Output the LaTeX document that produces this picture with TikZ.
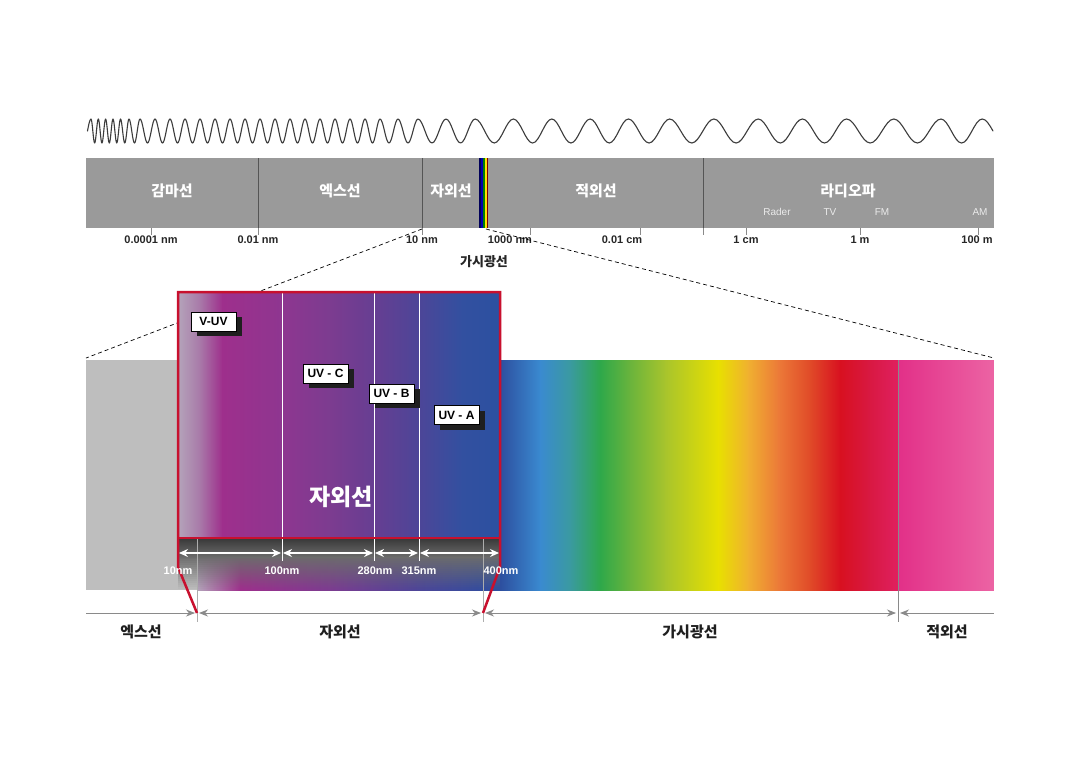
\documentclass[tikz,border=0pt]{standalone}
\usepackage{fontspec}
\setmainfont{Liberation Sans}
\newfontfamily\kr{Noto Sans CJK KR}
\usepackage{xcolor}
\usetikzlibrary{arrows.meta, shadows}

\definecolor{bargray}{HTML}{9A9A9A}
\definecolor{divgray}{HTML}{555555}
\definecolor{wavegray}{HTML}{3C3C3C}
\definecolor{specgray}{HTML}{BEBEBE}
\definecolor{insetred}{HTML}{C8102E}
\definecolor{axisgray}{HTML}{8A8A8A}
\definecolor{striptop}{HTML}{383838}
\definecolor{stripbot}{HTML}{6C6C6C}
% rainbow stops
\definecolor{rbA}{HTML}{2D4F9F}
\definecolor{rbB}{HTML}{3A8AD0}
\definecolor{rbC}{HTML}{3A9AA0}
\definecolor{rbD}{HTML}{2EA84A}
\definecolor{rbE}{HTML}{6AB43C}
\definecolor{rbF}{HTML}{A8C42C}
\definecolor{rbG}{HTML}{E8E000}
\definecolor{rbH}{HTML}{F0B030}
\definecolor{rbI}{HTML}{EC7A38}
\definecolor{rbJ}{HTML}{E04A28}
\definecolor{rbK}{HTML}{D81020}
\definecolor{rbL}{HTML}{D81840}
\definecolor{rbM}{HTML}{E02060}
\definecolor{irA}{HTML}{E23088}
\definecolor{irB}{HTML}{EC64A4}
% ultraviolet stops
\definecolor{uvA}{HTML}{B4A4BA}
\definecolor{uvB}{HTML}{A878A8}
\definecolor{uvC}{HTML}{9E2F8C}
\definecolor{uvD}{HTML}{8E3690}
\definecolor{uvE}{HTML}{7C3C90}
\definecolor{uvF}{HTML}{663E92}
\definecolor{uvG}{HTML}{4C4698}
\definecolor{uvH}{HTML}{3250A0}
\definecolor{uvI}{HTML}{2C50A0}

\begin{document}
\begin{tikzpicture}[x=1pt, y=-1pt,
    wave/.style={wavegray, line width=1.1pt, line cap=round, line join=round},
    divider/.style={divgray, line width=1pt},
    tickmark/.style={axisgray, line width=0.8pt},
    bandlabel/.style={text=white, font=\kr\bfseries\fontsize{15}{15}\selectfont},
    radiolabel/.style={text=white!92!black, font=\fontsize{10}{10}\selectfont},
    ticklabel/.style={text=black!85, font=\bfseries\fontsize{11}{11}\selectfont},
    zoomline/.style={black, line width=0.7pt, dash pattern=on 4pt off 3pt},
    uvbox/.style={draw=black, line width=0.8pt, fill=white, minimum width=45pt,
        minimum height=19pt, inner sep=0pt, font=\bfseries\fontsize{12}{12}\selectfont,
        drop shadow={shadow xshift=6pt, shadow yshift=-5pt, fill=black!88, opacity=1}},
    nmlabel/.style={text=white, font=\bfseries\fontsize{11}{11}\selectfont},
    nmarr/.style={{Stealth[length=9pt, width=8pt]}-{Stealth[length=9pt, width=8pt]},
        white, line width=1.2pt, shorten <=1pt, shorten >=1pt},
    axarr/.style={>={Stealth[length=9pt, width=7pt]}, axisgray, line width=0.9pt,
        shorten <=2pt, shorten >=2pt},
    axislabel/.style={text=black!88, font=\kr\bfseries\fontsize{15}{15}\selectfont}
]
    \useasboundingbox (0,0) rectangle (1081,764);
    \fill[white] (0,0) rectangle (1081,764);

    % Wave, period growing to the right (crest to crest)
    \draw[wave] (87.5,131) sin (91,119)
        \foreach \a/\b in {91/98.3, 98.3/105.6, 105.6/113, 113/120.5, 120.5/129,
            129/140, 140/155, 155/170, 170/185, 185/200, 200/215, 215/230,
            230/245, 245/260, 260/275, 275/290, 290/305, 305/320, 320/335,
            335/350, 350/365, 365/380, 380/398, 398/418, 418/446, 446/475.1,
            475.1/513.4, 513.4/551.8, 551.8/590.1, 590.1/628.4, 628.4/669.7,
            669.7/713.9, 713.9/758.2, 758.2/802.4, 802.4/846.6, 846.6/893.8,
            893.8/941, 941/982.2}
        { cos ({\a+0.25*(\b-\a)},131) sin ({\a+0.5*(\b-\a)},143)
          cos ({\a+0.75*(\b-\a)},131) sin (\b,119) }
        cos (993,131);

    % Spectrum bar
    \fill[bargray] (86,158) rectangle (994,228);
    \foreach \x in {258, 422, 703}
        \draw[divider] (\x,158) -- (\x,231);

    % Visible light slit
    \fill[blue!35!black] (479,158) rectangle (481,228);
    \fill[blue!70!black] (481,158) rectangle (483,228);
    \fill[green!50!black] (483,158) rectangle (484.5,228);
    \fill[yellow!85!orange] (484.5,158) rectangle (486.5,228);
    \fill[red!50!black] (486.5,158) rectangle (488,228);

    \node[bandlabel] (gamma) at (172,191) {감마선};
    \node[bandlabel] (xray) at (340,191) {엑스선};
    \node[bandlabel] (uv) at (451,191) {자외선};
    \node[bandlabel] (ir) at (596,191) {적외선};
    \node[bandlabel] (radio) at (848,191) {라디오파};

    \node[radiolabel] (rader) at (777,212) {Rader};
    \node[radiolabel] (tv) at (830,212) {TV};
    \node[radiolabel] (fm) at (882,212) {FM};
    \node[radiolabel] (am) at (980,212) {AM};

    % Scale ticks
    \foreach \x in {151, 258, 422, 530, 640, 703, 746, 860, 978}
        \draw[tickmark] (\x,228) -- (\x,235);

    \node[ticklabel] (w1) at (151,240) {0.0001 nm};
    \node[ticklabel] (w2) at (258,240) {0.01 nm};
    \node[ticklabel] (w3) at (422,240) {10 nm};
    \node[ticklabel] (w4) at (510,240) {1000 nm};
    \node[ticklabel] (w5) at (622,240) {0.01 cm};
    \node[ticklabel] (w6) at (746,240) {1 cm};
    \node[ticklabel] (w7) at (860,240) {1 m};
    \node[ticklabel] (w8) at (977,240) {100 m};

    \node[text=black!85, font=\kr\bfseries\fontsize{13}{13}\selectfont] (vis) at (484,262) {가시광선};

    % Zoom lines
    \coordinate (ten) at (422,229);
    \coordinate (slit) at (486,229);
    \coordinate (specNW) at (86,358);
    \coordinate (specNE) at (994,358);
    \draw[zoomline] (ten) -- (specNW);
    \draw[zoomline] (slit) -- (specNE);

    % Lower spectrum
    \fill[specgray] (86,360) rectangle (197.5,590);
    \foreach \xa/\ca/\xb/\cb in {197/uvA/240/uvC, 240/uvC/330/uvE, 330/uvE/420/uvG,
        420/uvG/500/rbA, 500/rbA/540/rbB, 540/rbB/570/rbC, 570/rbC/600/rbD,
        600/rbD/630/rbE, 630/rbE/665/rbF, 665/rbF/718/rbG, 718/rbG/748/rbH,
        748/rbH/778/rbI, 778/rbI/810/rbJ, 810/rbJ/840/rbK, 840/rbK/868/rbL,
        868/rbL/898/rbM, 898/irA/994/irB}
        \shade[left color=\ca, right color=\cb] (\xa,360) rectangle ({\xb+0.6},590);
    \fill[white] (994,356) rectangle (996,592);
    \draw[tickmark] (898,360) -- (898,622);

    % Dark strip under the inset
    \shade[top color=striptop, bottom color=stripbot] (178,538) rectangle (500,557);
    \foreach \i [evaluate=\i as \op using 0.95-0.06*\i] in {0,...,15}
        \fill[stripbot, opacity=\op] (178,{557+2*\i}) rectangle (500,{559+2*\i});

    % Inset box
    \foreach \xa/\ca/\xb/\cb in {178/uvA/200/uvB, 200/uvB/222/uvC, 222/uvC/282/uvD,
        282/uvD/330/uvE, 330/uvE/374/uvF, 374/uvF/420/uvG, 420/uvG/462/uvH,
        462/uvH/500/uvI}
        \shade[left color=\ca, right color=\cb] (\xa,292) rectangle ({\xb+0.6},538);

    \foreach \x in {282, 374, 419}
        \draw[white, line width=1pt] (\x,292) -- (\x,561);
    \foreach \x in {197, 483}
        \draw[tickmark, axisgray!70!white] (\x,538) -- (\x,622);

    \node[uvbox] (vuv) at (213.5,321.5) {V-UV};
    \node[uvbox] (uvc) at (325.5,373.5) {UV - C};
    \node[uvbox] (uvb) at (391.5,393.5) {UV - B};
    \node[uvbox] (uva) at (456.5,415) {UV - A};

    \node[text=white, font=\kr\bfseries\fontsize{23}{23}\selectfont] (uvbig) at (341,497) {자외선};

    % Red frame
    \coordinate (frameNW) at (178,292);
    \coordinate (frameNE) at (500,292);
    \coordinate (frameSW) at (178,567);
    \coordinate (frameSE) at (500,567);
    \coordinate (uvL) at (197,613);
    \coordinate (uvR) at (483,613);
    \draw[insetred, line width=2.5pt] (uvL) -- (frameSW) -- (frameNW) -- (frameNE) -- (frameSE) -- (uvR);
    \draw[insetred, line width=2.5pt] (178,538) -- (500,538);

    % Range arrows in the strip
    \coordinate (b10) at (178,553);
    \coordinate (b100) at (282,553);
    \coordinate (b280) at (374,553);
    \coordinate (b315) at (419,553);
    \coordinate (b400) at (500,553);
    \draw[nmarr] (b10) -- (b100);
    \draw[nmarr] (b100) -- (b280);
    \draw[nmarr] (b280) -- (b315);
    \draw[nmarr] (b315) -- (b400);

    \node[nmlabel] (n10) at (178,571) {10nm};
    \node[nmlabel] (n100) at (282,571) {100nm};
    \node[nmlabel] (n280) at (375,571) {280nm};
    \node[nmlabel] (n315) at (419,571) {315nm};
    \node[nmlabel] (n400) at (501,571) {400nm};

    % Bottom axis
    \coordinate (axL) at (86,613);
    \coordinate (axIR) at (898,613);
    \coordinate (axR) at (994,613);
    \draw[axarr, shorten <=0pt, ->] (axL) -- (uvL);
    \draw[axarr, <->] (uvL) -- (uvR);
    \draw[axarr, <->] (uvR) -- (axIR);
    \draw[axarr, shorten >=0pt, <-] (axIR) -- (axR);

    \node[axislabel] (bx) at (141,632) {엑스선};
    \node[axislabel] (buv) at (340,632) {자외선};
    \node[axislabel] (bvis) at (690,632) {가시광선};
    \node[axislabel] (bir) at (947,632) {적외선};

\end{tikzpicture}
\end{document}
